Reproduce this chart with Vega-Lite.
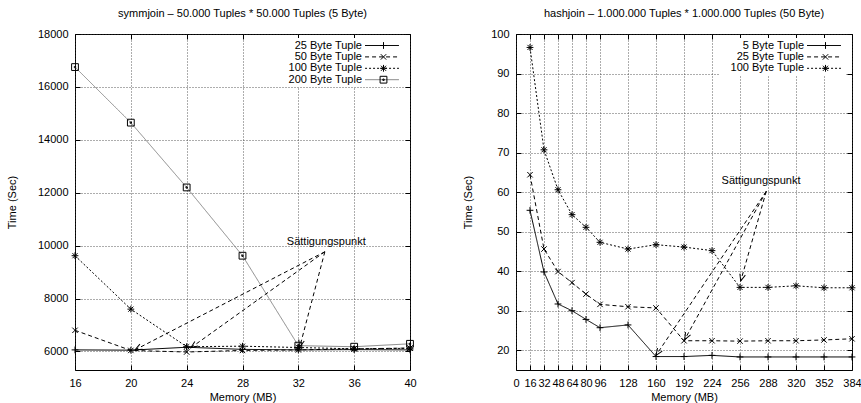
{
  "$schema": "https://vega.github.io/schema/vega-lite/v6.json",
  "padding": {"left": 5, "top": 7, "right": 0, "bottom": 0},
  "spacing": 45,
  "resolve": {"scale": {"x": "independent", "y": "independent", "shape": "independent", "strokeDash": "independent", "color": "independent"}, "legend": {"shape": "independent", "strokeDash": "independent", "color": "independent"}},
  "config": {
    "font": "Liberation Sans",
    "view": {"stroke": "black", "strokeWidth": 1},
    "axis": {
      "labelFontSize": 11, "titleFontSize": 11, "titleFontWeight": "normal",
      "labelColor": "black", "titleColor": "black", "domain": false,
      "grid": true, "gridColor": "#333", "gridDash": [1, 2], "gridOpacity": 0.8,
      "tickColor": "black", "tickSize": -5, "labelPadding": 12,
      "labelFlush": false, "labelOverlap": false, "tickCount": 20
    },
    "title": {"fontSize": 11, "fontWeight": "normal", "frame": "group", "offset": 9, "color": "black", "font": "Liberation Sans"},
    "legend": {"labelFontSize": 11, "labelColor": "black", "labelFont": "Liberation Sans"}
  },
  "datasets": {
    "symm": [
      {"series": "25 Byte Tuple", "mem": 16, "time": 6060},
      {"series": "25 Byte Tuple", "mem": 20, "time": 6050},
      {"series": "25 Byte Tuple", "mem": 24, "time": 6160},
      {"series": "25 Byte Tuple", "mem": 28, "time": 6080},
      {"series": "25 Byte Tuple", "mem": 32, "time": 6060},
      {"series": "25 Byte Tuple", "mem": 36, "time": 6070},
      {"series": "25 Byte Tuple", "mem": 40, "time": 6060},
      {"series": "50 Byte Tuple", "mem": 16, "time": 6800},
      {"series": "50 Byte Tuple", "mem": 20, "time": 6040},
      {"series": "50 Byte Tuple", "mem": 24, "time": 5980},
      {"series": "50 Byte Tuple", "mem": 28, "time": 6040},
      {"series": "50 Byte Tuple", "mem": 32, "time": 6060},
      {"series": "50 Byte Tuple", "mem": 36, "time": 6100},
      {"series": "50 Byte Tuple", "mem": 40, "time": 6130},
      {"series": "100 Byte Tuple", "mem": 16, "time": 9620},
      {"series": "100 Byte Tuple", "mem": 20, "time": 7600},
      {"series": "100 Byte Tuple", "mem": 24, "time": 6180},
      {"series": "100 Byte Tuple", "mem": 28, "time": 6200},
      {"series": "100 Byte Tuple", "mem": 32, "time": 6150},
      {"series": "100 Byte Tuple", "mem": 36, "time": 6100},
      {"series": "100 Byte Tuple", "mem": 40, "time": 6120},
      {"series": "200 Byte Tuple", "mem": 16, "time": 16750},
      {"series": "200 Byte Tuple", "mem": 20, "time": 14650},
      {"series": "200 Byte Tuple", "mem": 24, "time": 12200},
      {"series": "200 Byte Tuple", "mem": 28, "time": 9620},
      {"series": "200 Byte Tuple", "mem": 32, "time": 6220},
      {"series": "200 Byte Tuple", "mem": 36, "time": 6180},
      {"series": "200 Byte Tuple", "mem": 40, "time": 6290}
    ],
    "hash": [
      {"series": "5 Byte Tuple", "mem": 16, "time": 55.4},
      {"series": "5 Byte Tuple", "mem": 32, "time": 39.8},
      {"series": "5 Byte Tuple", "mem": 48, "time": 31.7},
      {"series": "5 Byte Tuple", "mem": 64, "time": 30.0},
      {"series": "5 Byte Tuple", "mem": 80, "time": 27.8},
      {"series": "5 Byte Tuple", "mem": 96, "time": 25.7},
      {"series": "5 Byte Tuple", "mem": 128, "time": 26.4},
      {"series": "5 Byte Tuple", "mem": 160, "time": 18.4},
      {"series": "5 Byte Tuple", "mem": 192, "time": 18.4},
      {"series": "5 Byte Tuple", "mem": 224, "time": 18.7},
      {"series": "5 Byte Tuple", "mem": 256, "time": 18.3},
      {"series": "5 Byte Tuple", "mem": 288, "time": 18.3},
      {"series": "5 Byte Tuple", "mem": 320, "time": 18.3},
      {"series": "5 Byte Tuple", "mem": 352, "time": 18.3},
      {"series": "5 Byte Tuple", "mem": 384, "time": 18.3},
      {"series": "25 Byte Tuple", "mem": 16, "time": 64.4},
      {"series": "25 Byte Tuple", "mem": 32, "time": 45.6},
      {"series": "25 Byte Tuple", "mem": 48, "time": 39.9},
      {"series": "25 Byte Tuple", "mem": 64, "time": 37.1},
      {"series": "25 Byte Tuple", "mem": 80, "time": 34.2},
      {"series": "25 Byte Tuple", "mem": 96, "time": 31.6},
      {"series": "25 Byte Tuple", "mem": 128, "time": 31.0},
      {"series": "25 Byte Tuple", "mem": 160, "time": 30.7},
      {"series": "25 Byte Tuple", "mem": 192, "time": 22.4},
      {"series": "25 Byte Tuple", "mem": 224, "time": 22.4},
      {"series": "25 Byte Tuple", "mem": 256, "time": 22.3},
      {"series": "25 Byte Tuple", "mem": 288, "time": 22.4},
      {"series": "25 Byte Tuple", "mem": 320, "time": 22.4},
      {"series": "25 Byte Tuple", "mem": 352, "time": 22.6},
      {"series": "25 Byte Tuple", "mem": 384, "time": 22.9},
      {"series": "100 Byte Tuple", "mem": 16, "time": 96.6},
      {"series": "100 Byte Tuple", "mem": 32, "time": 70.7},
      {"series": "100 Byte Tuple", "mem": 48, "time": 60.6},
      {"series": "100 Byte Tuple", "mem": 64, "time": 54.3},
      {"series": "100 Byte Tuple", "mem": 80, "time": 51.1},
      {"series": "100 Byte Tuple", "mem": 96, "time": 47.3},
      {"series": "100 Byte Tuple", "mem": 128, "time": 45.6},
      {"series": "100 Byte Tuple", "mem": 160, "time": 46.7},
      {"series": "100 Byte Tuple", "mem": 192, "time": 46.1},
      {"series": "100 Byte Tuple", "mem": 224, "time": 45.2},
      {"series": "100 Byte Tuple", "mem": 256, "time": 35.9},
      {"series": "100 Byte Tuple", "mem": 288, "time": 35.9},
      {"series": "100 Byte Tuple", "mem": 320, "time": 36.3},
      {"series": "100 Byte Tuple", "mem": 352, "time": 35.8},
      {"series": "100 Byte Tuple", "mem": 384, "time": 35.8}
    ],
    "symmArrows": [
      {"x1": 33.9, "y1": 9770, "x2": 20.3, "y2": 6060},
      {"x1": 33.9, "y1": 9770, "x2": 24.3, "y2": 6140},
      {"x1": 33.9, "y1": 9770, "x2": 32.1, "y2": 6170}
    ],
    "hashArrows": [
      {"x1": 286, "y1": 60.2, "x2": 160, "y2": 18.7},
      {"x1": 286, "y1": 60.2, "x2": 192.8, "y2": 22.7},
      {"x1": 286, "y1": 60.2, "x2": 256.8, "y2": 37.5}
    ],
    "symmText": [{"x": 34, "y": 10150, "label": "Sättigungspunkt"}],
    "hashText": [{"x": 280, "y": 62.7, "label": "Sättigungspunkt"}]
  },
  "hconcat": [
    {
      "width": 335, "height": 336,
      "title": {"text": "symmjoin – 50.000 Tuples * 50.000 Tuples (5 Byte)"},
      "resolve": {"axis": {"x": "independent", "y": "independent"}},
      "layer": [
        {
          "data": {"name": "symm"},
          "mark": {"type": "line", "strokeWidth": 1},
          "encoding": {
            "x": {"field": "mem", "type": "quantitative", "scale": {"domain": [16, 40], "nice": false},
                  "axis": {"title": "Memory (MB)", "values": [16, 20, 24, 28, 32, 36, 40], "titlePadding": 3, "labelOverlap": false, "tickCount": 20}},
            "y": {"field": "time", "type": "quantitative", "scale": {"domain": [5300, 18000], "nice": false, "zero": false},
                  "axis": {"title": "Time (Sec)", "values": [6000, 8000, 10000, 12000, 14000, 16000, 18000], "format": "d", "titlePadding": 20, "tickCount": 20}},
            "strokeDash": {"field": "series", "type": "nominal",
              "scale": {"domain": ["25 Byte Tuple", "50 Byte Tuple", "100 Byte Tuple", "200 Byte Tuple"], "range": [[1, 0], [4, 3], [2, 2], [1, 0]]},
              "legend": {"orient": "none", "legendX": 203, "legendY": 4, "padding": 2, "fillColor": "white", "zindex": 1, "title": null, "symbolType": "M23.46,0H33.46", "symbolSize": 46, "symbolStrokeWidth": 1, "labelAlign": "right", "labelOffset": 71, "rowPadding": -0.6}},
            "color": {"field": "series", "type": "nominal",
              "scale": {"domain": ["25 Byte Tuple", "50 Byte Tuple", "100 Byte Tuple", "200 Byte Tuple"], "range": ["black", "black", "black", "#888888"]},
              "legend": {"orient": "none", "legendX": 203, "legendY": 4, "padding": 2, "fillColor": "white", "zindex": 1, "title": null, "symbolType": "M23.46,0H33.46", "symbolSize": 46, "symbolStrokeWidth": 1, "labelAlign": "right", "labelOffset": 71, "rowPadding": -0.6}}
          }
        },
        {
          "data": {"name": "symm"},
          "mark": {"type": "point", "filled": false, "color": "black", "size": 46, "strokeWidth": 1, "opacity": 1},
          "encoding": {
            "x": {"field": "mem", "type": "quantitative", "axis": null},
            "y": {"field": "time", "type": "quantitative", "axis": null},
            "shape": {"field": "series", "type": "nominal", "sort": ["25 Byte Tuple", "50 Byte Tuple", "100 Byte Tuple", "200 Byte Tuple"],
              "scale": {"range": ["M-1,0H1M0,-1V1", "M-0.8,-0.8L0.8,0.8M-0.8,0.8L0.8,-0.8", "M-1,0H1M0,-1V1M-0.75,-0.75L0.75,0.75M-0.75,0.75L0.75,-0.75", "M-1,-1H1V1H-1ZM-0.2,-0.2H0.2V0.2H-0.2Z"]},
              "legend": {"orient": "top-right", "offset": 6, "zindex": 2, "title": null, "symbolSize": 46, "symbolStrokeWidth": 1, "symbolStrokeColor": "black", "symbolFillColor": "transparent", "labelAlign": "left", "labelOffset": 4, "labelExpr": "'xx'", "rowPadding": -0.6, "labelOpacity": 0}}
          }
        },
        {
          "data": {"name": "symmArrows"},
          "mark": {"type": "rule", "strokeDash": [4, 3], "color": "black", "strokeWidth": 1},
          "encoding": {
            "x": {"field": "x1", "type": "quantitative", "axis": null},
            "y": {"field": "y1", "type": "quantitative", "axis": null},
            "x2": {"field": "x2"},
            "y2": {"field": "y2"}
          }
        },
        {
          "data": {"name": "symmArrows"},
          "transform": [{"calculate": "atan2(-(datum.y2 - datum.y1) * 0.026457, (datum.x2 - datum.x1) * 13.958) * 180 / PI", "as": "ang"}],
          "mark": {"type": "point", "filled": false, "color": "black", "size": 40, "strokeWidth": 1, "opacity": 1, "shape": "M-2.2,-0.9L0,0L-2.2,0.9"},
          "encoding": {
            "x": {"field": "x2", "type": "quantitative", "axis": null},
            "y": {"field": "y2", "type": "quantitative", "axis": null},
            "angle": {"field": "ang", "type": "quantitative", "scale": null}
          }
        },
        {
          "data": {"name": "symmText"},
          "mark": {"type": "text", "fontSize": 11, "color": "black", "align": "center", "baseline": "middle"},
          "encoding": {
            "x": {"field": "x", "type": "quantitative", "axis": {"orient": "top", "labels": false, "title": null, "grid": false, "values": [16, 20, 24, 28, 32, 36, 40], "tickCount": 20}},
            "y": {"field": "y", "type": "quantitative", "axis": {"orient": "right", "labels": false, "title": null, "grid": false, "values": [6000, 8000, 10000, 12000, 14000, 16000, 18000], "tickCount": 20}},
            "text": {"field": "label"}
          }
        }
      ]
    },
    {
      "width": 336, "height": 336,
      "title": {"text": "hashjoin – 1.000.000 Tuples * 1.000.000 Tuples (50 Byte)"},
      "resolve": {"axis": {"x": "independent", "y": "independent"}},
      "layer": [
        {
          "data": {"name": "hash"},
          "mark": {"type": "line", "strokeWidth": 1},
          "encoding": {
            "x": {"field": "mem", "type": "quantitative", "scale": {"domain": [0, 384], "nice": false},
                  "axis": {"title": "Memory (MB)", "values": [0, 16, 32, 48, 64, 80, 96, 128, 160, 192, 224, 256, 288, 320, 352, 384], "titlePadding": 3, "labelOverlap": false, "tickCount": 20}},
            "y": {"field": "time", "type": "quantitative", "scale": {"domain": [15, 100], "nice": false, "zero": false},
                  "axis": {"title": "Time (Sec)", "values": [20, 30, 40, 50, 60, 70, 80, 90, 100], "titlePadding": 17, "tickCount": 20}},
            "strokeDash": {"field": "series", "type": "nominal",
              "scale": {"domain": ["5 Byte Tuple", "25 Byte Tuple", "100 Byte Tuple"], "range": [[1, 0], [4, 3], [2, 2]]},
              "legend": {"orient": "none", "legendX": 204, "legendY": 4, "padding": 2, "fillColor": "white", "zindex": 1, "title": null, "symbolType": "M23.46,0H33.46", "symbolSize": 46, "symbolStrokeWidth": 1, "labelAlign": "right", "labelOffset": 71, "rowPadding": -0.6}},
            "color": {"field": "series", "type": "nominal",
              "scale": {"domain": ["5 Byte Tuple", "25 Byte Tuple", "100 Byte Tuple"], "range": ["black", "black", "black"]},
              "legend": {"orient": "none", "legendX": 204, "legendY": 4, "padding": 2, "fillColor": "white", "zindex": 1, "title": null, "symbolType": "M23.46,0H33.46", "symbolSize": 46, "symbolStrokeWidth": 1, "labelAlign": "right", "labelOffset": 71, "rowPadding": -0.6}}
          }
        },
        {
          "data": {"name": "hash"},
          "mark": {"type": "point", "filled": false, "color": "black", "size": 46, "strokeWidth": 1, "opacity": 1},
          "encoding": {
            "x": {"field": "mem", "type": "quantitative", "axis": null},
            "y": {"field": "time", "type": "quantitative", "axis": null},
            "shape": {"field": "series", "type": "nominal", "sort": ["5 Byte Tuple", "25 Byte Tuple", "100 Byte Tuple"],
              "scale": {"range": ["M-1,0H1M0,-1V1", "M-0.8,-0.8L0.8,0.8M-0.8,0.8L0.8,-0.8", "M-1,0H1M0,-1V1M-0.75,-0.75L0.75,0.75M-0.75,0.75L0.75,-0.75"]},
              "legend": {"orient": "top-right", "offset": 6, "zindex": 2, "title": null, "symbolSize": 46, "symbolStrokeWidth": 1, "symbolStrokeColor": "black", "symbolFillColor": "transparent", "labelAlign": "left", "labelOffset": 4, "labelExpr": "'xx'", "rowPadding": -0.6, "labelOpacity": 0}}
          }
        },
        {
          "data": {"name": "hashArrows"},
          "mark": {"type": "rule", "strokeDash": [4, 3], "color": "black", "strokeWidth": 1},
          "encoding": {
            "x": {"field": "x1", "type": "quantitative", "axis": null},
            "y": {"field": "y1", "type": "quantitative", "axis": null},
            "x2": {"field": "x2"},
            "y2": {"field": "y2"}
          }
        },
        {
          "data": {"name": "hashArrows"},
          "transform": [{"calculate": "atan2(-(datum.y2 - datum.y1) * 3.953, (datum.x2 - datum.x1) * 0.875) * 180 / PI", "as": "ang"}],
          "mark": {"type": "point", "filled": false, "color": "black", "size": 40, "strokeWidth": 1, "opacity": 1, "shape": "M-2.2,-0.9L0,0L-2.2,0.9"},
          "encoding": {
            "x": {"field": "x2", "type": "quantitative", "axis": null},
            "y": {"field": "y2", "type": "quantitative", "axis": null},
            "angle": {"field": "ang", "type": "quantitative", "scale": null}
          }
        },
        {
          "data": {"name": "hashText"},
          "mark": {"type": "text", "fontSize": 11, "color": "black", "align": "center", "baseline": "middle"},
          "encoding": {
            "x": {"field": "x", "type": "quantitative", "axis": {"orient": "top", "labels": false, "title": null, "grid": false, "values": [0, 16, 32, 48, 64, 80, 96, 128, 160, 192, 224, 256, 288, 320, 352, 384], "tickCount": 20}},
            "y": {"field": "y", "type": "quantitative", "axis": {"orient": "right", "labels": false, "title": null, "grid": false, "values": [20, 30, 40, 50, 60, 70, 80, 90, 100], "tickCount": 20}},
            "text": {"field": "label"}
          }
        }
      ]
    }
  ]
}
